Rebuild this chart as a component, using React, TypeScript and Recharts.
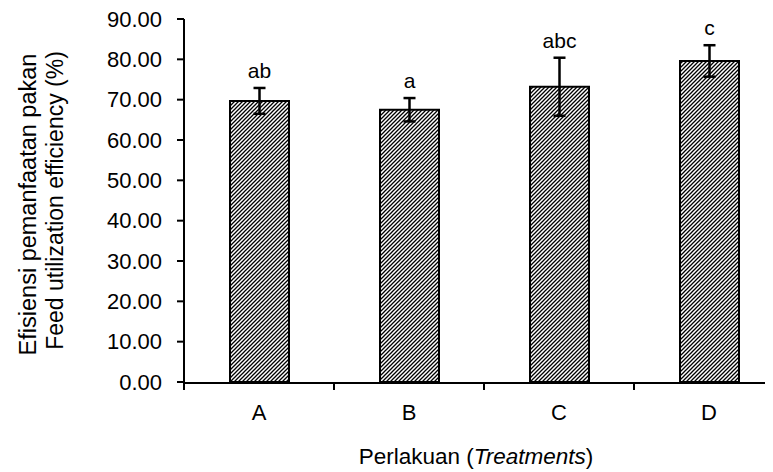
import React from "react";
import { BarChart, Bar, XAxis, YAxis, ErrorBar, LabelList } from "recharts";

const categories = ["A", "B", "C", "D"];
const means = [69.7, 67.5, 73.2, 79.6];
const errors = [3.2, 2.9, 7.2, 3.9];
const letters = ["ab", "a", "abc", "c"];
const yTicks = [0, 10, 20, 30, 40, 50, 60, 70, 80, 90];
const edgeTicks = [0, 1, 2, 3, 4];

const data = categories.map((c, i) => ({ cat: c, value: means[i], err: errors[i], sig: letters[i] }));

const FONT = "'Liberation Sans', Arial, sans-serif";

const SigLabel = (props: any) => {
  const { x, y, width, height, index } = props;
  const d = data[index];
  const pxPerUnit = height / d.value;
  const top = y - d.err * pxPerUnit;
  return (
    <text x={x + width / 2} y={top - 10} textAnchor="middle" fontFamily={FONT} fontSize={21} fill="#000">
      {d.sig}
    </text>
  );
};

const YTitle = (props: any) => {
  const vb = props.viewBox || {};
  const cy = (vb.y ?? 11) + (vb.height ?? 362) / 2 + 4;
  return (
    <g>
      <text transform={`translate(28, ${cy}) rotate(-90)`} textAnchor="middle" fontFamily={FONT} fontSize={23.5} fill="#000">
        Efisiensi pemanfaatan pakan
      </text>
      <text transform={`translate(55, ${cy - 4}) rotate(-90)`} textAnchor="middle" fontFamily={FONT} fontSize={23} fill="#000">
        Feed utilization efficiency (%)
      </text>
    </g>
  );
};

export default function App() {
  return (
    <div style={{ width: 765, height: 464, overflow: "hidden" }}>
      <BarChart width={800} height={464} data={data} margin={{ top: 11, right: 24, left: 0, bottom: 0 }}>
        <defs>
          <pattern id="hatch" patternUnits="userSpaceOnUse" width="4" height="4">
            <rect width="4" height="4" fill="#fff" />
            <path d="M-1,1 l2,-2 M0,4 l4,-4 M3,5 l2,-2" stroke="#000" strokeWidth="1.3" />
          </pattern>
        </defs>
        <XAxis
          dataKey="cat"
          height={1}
          axisLine={false}
          tickLine={false}
          tickSize={0}
          tickMargin={22}
          tick={{ fill: "#000", fontSize: 22, fontFamily: FONT }}
          label={() => (
            <text x={468} y={456} textAnchor="middle" fontFamily={FONT} fontSize={22.5} fill="#000">
              Perlakuan (<tspan fontStyle="italic">Treatments</tspan>)
            </text>
          )}
        />
        <XAxis
          xAxisId="edges"
          type="number"
          dataKey="value"
          domain={[0, 4]}
          ticks={edgeTicks}
          allowDataOverflow
          height={89}
          tickSize={7}
          tickFormatter={() => ""}
          axisLine={{ stroke: "#000", strokeWidth: 2 }}
          tickLine={{ stroke: "#000", strokeWidth: 2 }}
        />
        <YAxis
          width={176}
          domain={[0, 90]}
          ticks={yTicks}
          interval={0}
          tickSize={7}
          tickMargin={15}
          tickFormatter={(v: number) => v.toFixed(2)}
          axisLine={{ stroke: "#000", strokeWidth: 2 }}
          tickLine={{ stroke: "#000", strokeWidth: 2 }}
          tick={{ fill: "#000", fontSize: 22, fontFamily: FONT }}
          label={<YTitle />}
        />
        <Bar dataKey="value" barSize={59} fill="url(#hatch)" stroke="#000" strokeWidth={2} isAnimationActive={false}>
          <ErrorBar dataKey="err" direction="y" width={6} stroke="#000" strokeWidth={2.5} />
          <LabelList dataKey="sig" content={<SigLabel />} />
        </Bar>
      </BarChart>
    </div>
  );
}
